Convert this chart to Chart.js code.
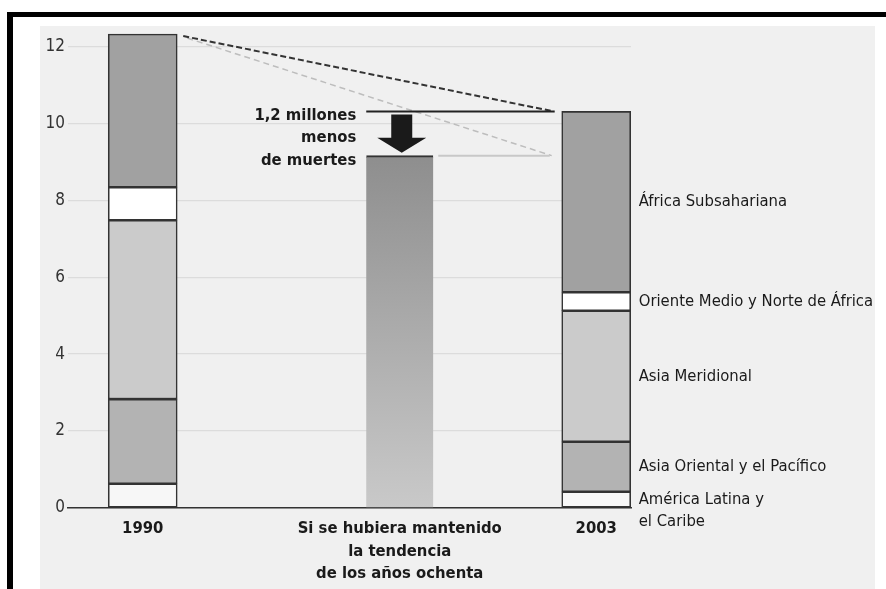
<!DOCTYPE html>
<html>
<head>
<meta charset="utf-8">
<script src="https://cdn.jsdelivr.net/npm/chart.js@4.4.1/dist/chart.umd.min.js"></script>
<style>
  html, body { margin: 0; padding: 0; background: #ffffff; }
  #wrap { width: 886px; height: 589px; }
</style>
</head>
<body>
<div id="wrap"><canvas id="c" width="886" height="589"></canvas></div>
<script>
// ---- data (millones de muertes) ----
const categories = ['1990', 'Si se hubiera mantenido\nla tendencia\nde los años ochenta', '2003'];
const regions = ['América Latina y\nel Caribe', 'Asia Oriental y el Pacífico', 'Asia Meridional', 'Oriente Medio y Norte de África', 'África Subsahariana'];
const deaths1990 = [0.63, 2.20, 4.65, 0.86, 3.98];
const deaths2003 = [0.42, 1.30, 3.41, 0.48, 4.70];
const trendValue = 9.16;
const yTicks = [0, 2, 4, 6, 8, 10, 12];
const annotationText = ['1,2 millones', 'menos', 'de muertes'];

// ---- layout / style (not data) ----
const categorySlots = [1.16, 5.15, 8.2];
const regionColors = ['#f7f7f7', '#b3b3b3', '#cbcbcb', '#ffffff', '#a1a1a1'];
const FONT = "'Liberation Sans Narrow', 'DejaVu Sans Condensed', 'Arial Narrow', Arial, sans-serif";

const datasets = regions.map((r, i) => ({
  label: r.replace('\n', ' '),
  data: [
    { x: categorySlots[0], y: deaths1990[i] },
    { x: categorySlots[2], y: deaths2003[i] }
  ],
  backgroundColor: regionColors[i],
  borderColor: '#333333',
  borderWidth: 1.6,
  borderSkipped: false,
  barThickness: 69,
  stack: 's'
}));

datasets.push({
  label: 'Tendencia',
  data: [{ x: categorySlots[1], y: trendValue }],
  backgroundColor: (ctx) => {
    const chart = ctx.chart;
    const area = chart.chartArea;
    if (!area) return '#aaaaaa';
    const ys = chart.scales.y;
    const g = chart.ctx.createLinearGradient(0, ys.getPixelForValue(trendValue), 0, ys.getPixelForValue(0));
    g.addColorStop(0, '#8e8e8e');
    g.addColorStop(1, '#c9c9c9');
    return g;
  },
  borderColor: '#333333',
  borderWidth: { top: 2, left: 0, right: 0, bottom: 0 },
  borderSkipped: false,
  barThickness: 67,
  stack: 's'
});

const framePlugin = {
  id: 'frame',
  beforeDraw(chart) {
    const c = chart.ctx;
    c.save();
    c.fillStyle = '#ffffff';
    c.fillRect(0, 0, chart.width, chart.height);
    c.fillStyle = '#f0f0f0';
    c.fillRect(40, 26, 835, 563);
    c.fillStyle = '#000000';
    c.fillRect(7, 12, 879, 5);
    c.fillRect(7, 12, 6, 577);
    c.restore();
  }
};

const annotPlugin = {
  id: 'annot',
  afterDatasetsDraw(chart) {
    const c = chart.ctx;
    const ys = chart.scales.y;
    const top = chart.getDatasetMeta(regions.length - 1);
    const b90 = top.data[0];
    const b03 = top.data[1];
    const tb = chart.getDatasetMeta(regions.length).data[0];
    const half90 = b90.width / 2, half03 = b03.width / 2, halfT = tb.width / 2;
    const yTot03 = b03.y;
    const yTrend = ys.getPixelForValue(trendValue);

    c.save();
    // light dashed trend projection
    c.strokeStyle = '#bdbdbd';
    c.lineWidth = 1.5;
    c.setLineDash([6, 4]);
    c.beginPath();
    c.moveTo(b90.x + half90 + 10, b90.y + 4);
    c.lineTo(b03.x - half03 - 10, yTrend);
    c.stroke();
    // dark dashed actual
    c.strokeStyle = '#333333';
    c.lineWidth = 2;
    c.setLineDash([6, 3]);
    c.beginPath();
    c.moveTo(b90.x + half90 + 6, b90.y + 2);
    c.lineTo(b03.x - half03 - 8, yTot03);
    c.stroke();
    c.setLineDash([]);
    // solid dark level line at 2003 total
    c.strokeStyle = '#222222';
    c.lineWidth = 2;
    c.beginPath();
    c.moveTo(tb.x - halfT, yTot03);
    c.lineTo(b03.x - half03 - 7, yTot03);
    c.stroke();
    // light level line at trend value
    c.strokeStyle = '#c8c8c8';
    c.lineWidth = 2;
    c.beginPath();
    c.moveTo(tb.x + halfT + 5, yTrend);
    c.lineTo(b03.x - half03 - 12, yTrend);
    c.stroke();

    // arrow
    const ax = tb.x + 2;
    const aTop = yTot03 + 3, aTip = yTrend - 3;
    const headH = 15;
    c.fillStyle = '#1a1a1a';
    c.beginPath();
    c.moveTo(ax - 10.5, aTop);
    c.lineTo(ax + 10.5, aTop);
    c.lineTo(ax + 10.5, aTip - headH);
    c.lineTo(ax + 24.5, aTip - headH);
    c.lineTo(ax, aTip);
    c.lineTo(ax - 24.5, aTip - headH);
    c.lineTo(ax - 10.5, aTip - headH);
    c.closePath();
    c.fill();

    // annotation text
    c.font = 'bold 16.5px ' + FONT;
    c.fillStyle = '#1a1a1a';
    c.textAlign = 'right';
    c.textBaseline = 'middle';
    annotationText.forEach((t, i) => {
      c.fillText(t, tb.x - halfT - 10, yTot03 + 4 + i * 22.5);
    });

    // region labels to the right of the 2003 bar
    c.font = '16.5px ' + FONT;
    c.fillStyle = '#1a1a1a';
    c.textAlign = 'left';
    let cum = 0;
    regions.forEach((r, i) => {
      const mid = cum + deaths2003[i] / 2;
      cum += deaths2003[i];
      const lines = r.split('\n');
      const yy = ys.getPixelForValue(mid);
      lines.forEach((ln, k) => c.fillText(ln, b03.x + half03 + 8, yy + k * 22));
    });
    c.restore();
  }
};

new Chart(document.getElementById('c'), {
  type: 'bar',
  data: { datasets },
  options: {
    responsive: false,
    animation: false,
    devicePixelRatio: 1,
    layout: { padding: { left: 0, right: 255, top: 31, bottom: 0 } },
    plugins: { legend: { display: false }, tooltip: { enabled: false } },
    scales: {
      x: {
        type: 'linear',
        stacked: true,
        offset: false,
        min: 0,
        max: 8.74,
        grid: { display: false, drawTicks: false, offset: false },
        border: { display: true, color: '#333333', width: 1.6 },
        afterBuildTicks: (s) => { s.ticks = categorySlots.map(v => ({ value: v })); },
        afterFit: (s) => { s.height = 81; },
        ticks: {
          autoSkip: false,
          maxRotation: 0,
          padding: 10,
          color: '#1a1a1a',
          font: { family: FONT, size: 16.5, weight: 'bold', lineHeight: 1.35 },
          callback: (v, i) => categories[i].split('\n')
        }
      },
      y: {
        stacked: true,
        min: 0,
        max: 12.4,
        afterBuildTicks: (s) => { s.ticks = yTicks.map(v => ({ value: v })); },
        afterFit: (s) => { s.width = 68; },
        grid: { color: '#dcdcdc', lineWidth: 1.3, drawTicks: false },
        border: { display: false },
        ticks: {
          padding: 3,
          color: '#333333',
          font: { family: FONT, size: 17 }
        }
      }
    }
  },
  plugins: [framePlugin, annotPlugin]
});
</script>
</body>
</html>
